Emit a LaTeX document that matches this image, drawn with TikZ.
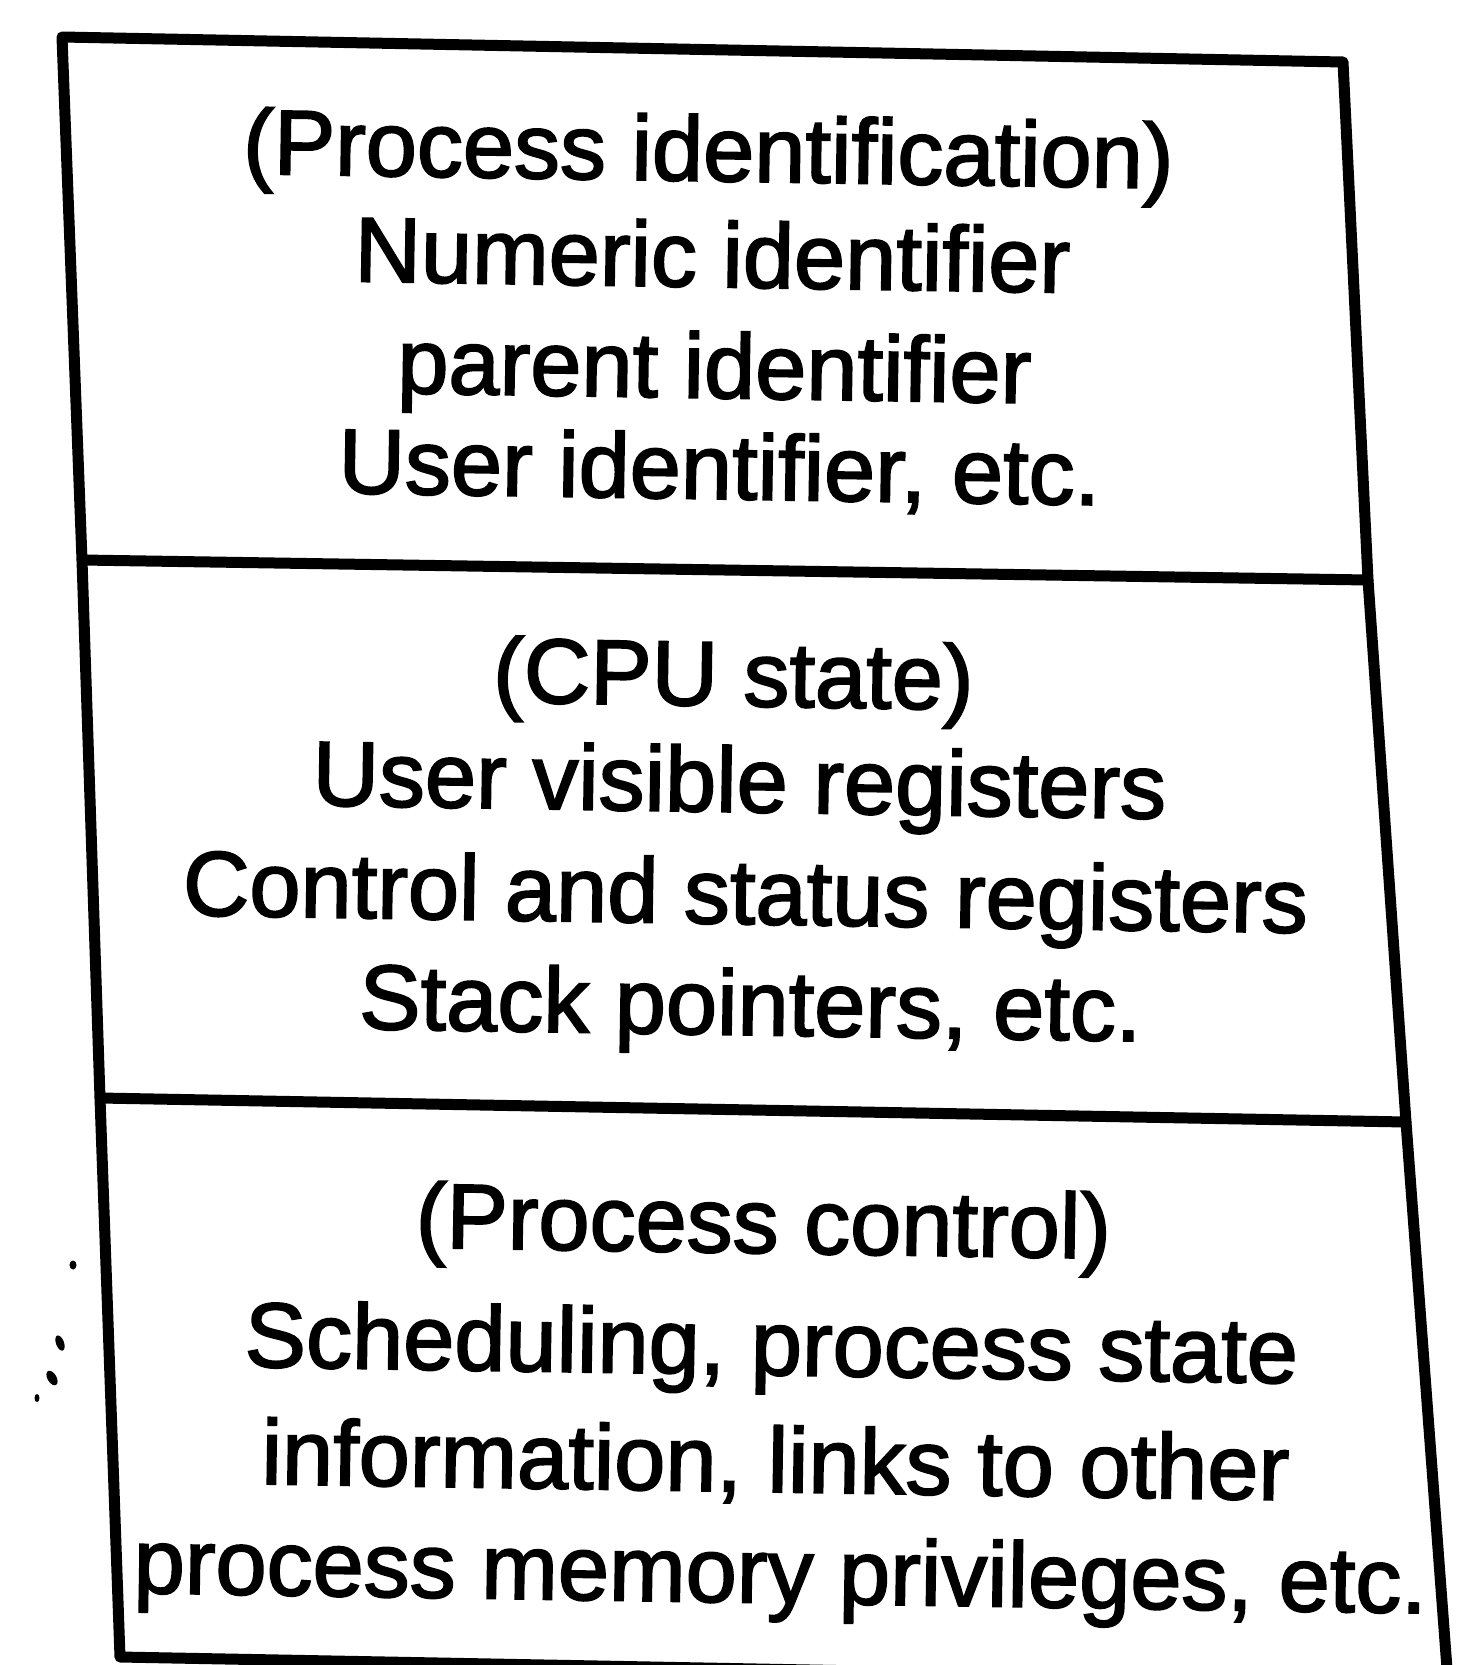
\documentclass[tikz,border=0pt]{standalone}
\usepackage{fontspec}
\setmainfont{Liberation Sans}[FakeBold=2]
\begin{document}
\begin{tikzpicture}[x=1pt,y=-1pt,
  frame/.style={line width=11pt,line join=round,line cap=round},
  txt/.style={font=\fontsize{92}{106}\selectfont,anchor=base,rotate=-0.9,inner sep=0pt},
  speck/.style={fill=black}]
\useasboundingbox (0,0) rectangle (1461,1665);
\clip (0,0) rectangle (1461,1665);
\coordinate (tl) at (62,37);
\coordinate (tr) at (1343,62);
\coordinate (al) at (82,560);
\coordinate (ar) at (1368,580);
\coordinate (bl) at (100,1098);
\coordinate (br) at (1406,1122);
\coordinate (dl) at (120,1657);
\coordinate (dr) at (1448,1682);
\draw[frame] (tl) -- (tr) -- (ar) -- (br) -- (dr) -- (dl) -- (bl) -- (al) -- cycle;
\draw[frame] (al) -- (ar);
\draw[frame] (bl) -- (br);
% section 1
\node[txt] (p1) at (708,181) {(Process identification)};
\node[txt] (p2) at (712,287) {Numeric identifier};
\node[txt] (p3) at (714,398) {parent identifier};
\node[txt] (p4) at (719,499) {User identifier, etc.};
% section 2
\node[txt] (c1) at (733,706) {(CPU state)};
\node[txt] (c2) at (739,812) {User visible registers};
\node[txt] (c3) at (745,924) {Control and status registers};
\node[txt] (c4) at (750,1035) {Stack pointers, etc.};
% section 3
\node[txt] (k1) at (763,1253) {(Process control)};
\node[txt] (k2) at (771,1375) {Scheduling, process state};
\node[txt] (k3) at (775,1492) {information, links to other};
\node[txt] (k4) at (780,1603) {process memory privileges, etc.};
% scan specks
\fill[speck] (73,1265) ellipse (3.5 and 4.5);
\fill[speck,rotate around={-70:(60,1343)}] (60,1343) ellipse (8 and 4);
\fill[speck,rotate around={-60:(52,1378)}] (52,1378) ellipse (8 and 4.5);
\fill[speck] (37,1398) ellipse (2.5 and 4);
\end{tikzpicture}
\end{document}
